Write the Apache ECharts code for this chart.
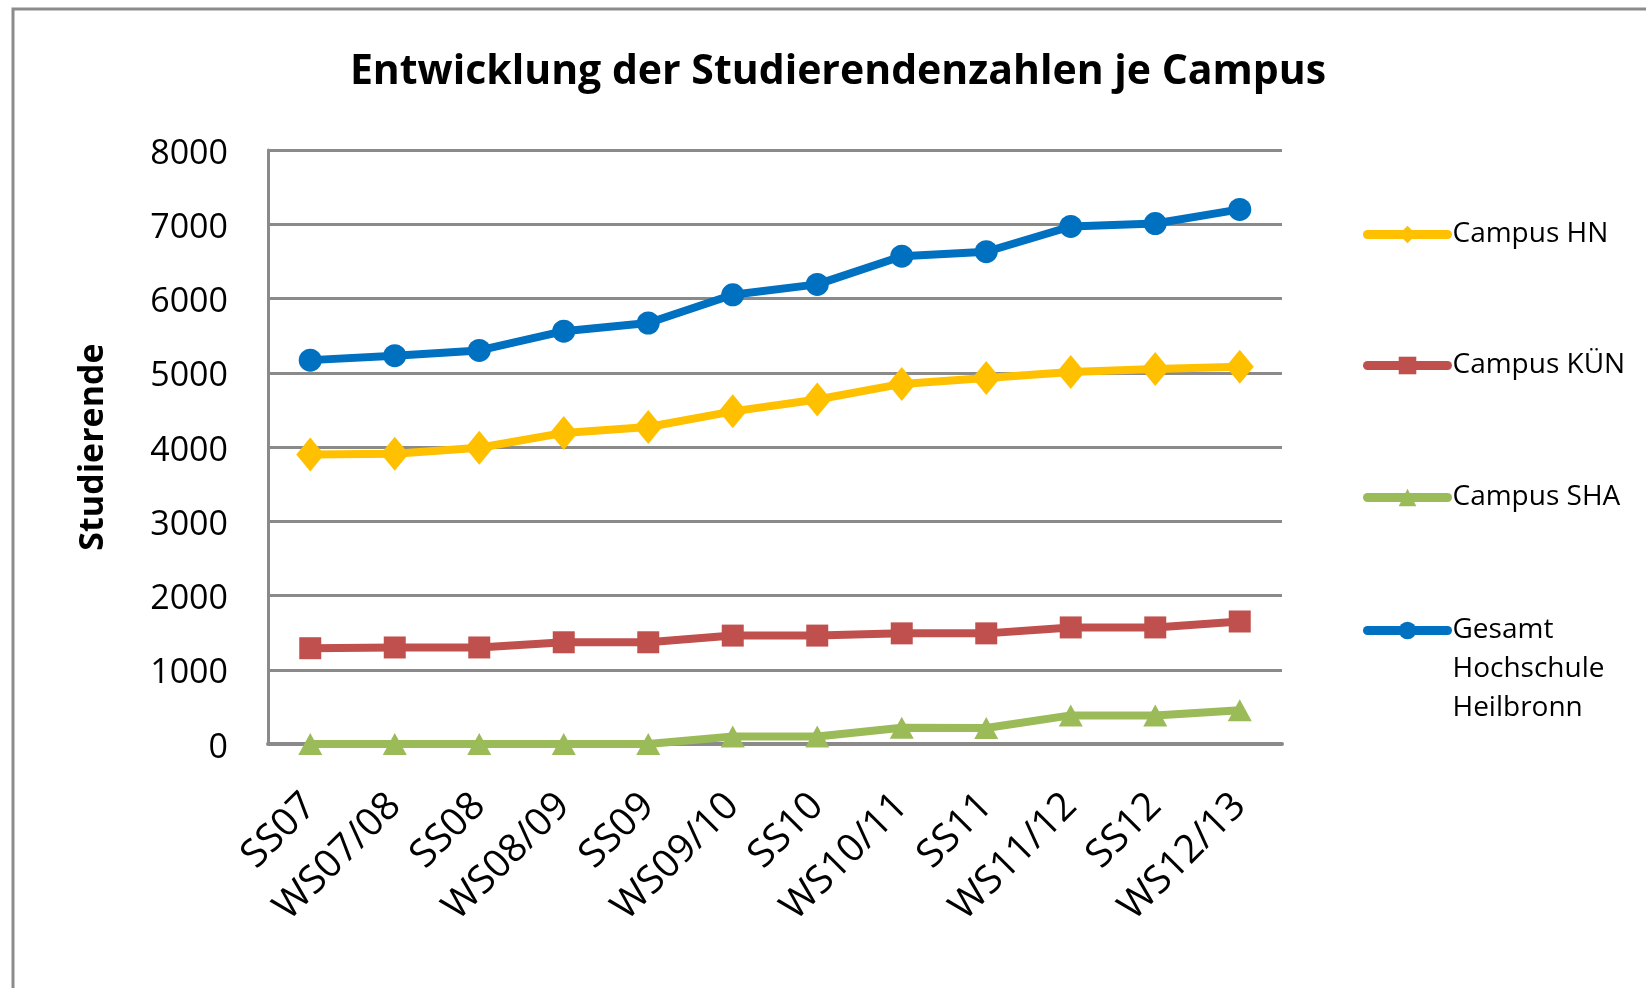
<!DOCTYPE html>
<html>
<head>
<meta charset="utf-8">
<title>Entwicklung der Studierendenzahlen je Campus</title>
<script src="https://cdn.jsdelivr.net/npm/echarts@6/dist/echarts.min.js"></script>
<style>
  html, body { margin: 0; padding: 0; background: #fff; }
  #chart { width: 1646px; height: 988px; }
</style>
</head>
<body>
<div id="chart"></div>
<script>
// data
const semesters = ['SS07', 'WS07/08', 'SS08', 'WS08/09', 'SS09', 'WS09/10', 'SS10', 'WS10/11', 'SS11', 'WS11/12', 'SS12', 'WS12/13']
const campusHN = [3900, 3910, 3990, 4190, 4270, 4480, 4640, 4850, 4930, 5010, 5050, 5080]
const campusKUEN = [1290, 1300, 1300, 1370, 1370, 1460, 1460, 1490, 1490, 1570, 1570, 1650]
const campusSHA = [0, 0, 0, 0, 0, 100, 100, 220, 215, 385, 385, 455]
const gesamt = [5170, 5230, 5300, 5560, 5670, 6050, 6190, 6570, 6630, 6970, 7010, 7200]
const yTicks = { min: 0, max: 8000, interval: 1000 }

const FONT = '"Open Sans"'
const GRID_GRAY = '#8a8a8a'

let myChart = echarts.init(document.getElementById('chart'))

// one legend per entry so each can sit where the original has it
function legendItem(name, top) {
  return {
    data: [name],
    orient: 'vertical',
    left: 1363,
    top: top,
    padding: 0,
    itemWidth: 80,
    itemHeight: 22,
    itemGap: 0,
    lineStyle: { width: 9, cap: 'round' },
    textStyle: {
      fontFamily: FONT,
      fontSize: 28,
      lineHeight: 39,
      color: '#000'
    },
    // two blank lines on top keep the icon next to the first line
    formatter: n => (n.indexOf('\n') > -1 ? '\n\n' + n : n)
  }
}

let option = {
  animation: false,
  backgroundColor: '#fff',
  title: {
    text: 'Entwicklung der Studierendenzahlen je Campus',
    left: 838,
    top: 52,
    padding: 0,
    textAlign: 'center',
    textStyle: {
      fontFamily: FONT,
      fontWeight: 'bold',
      fontSize: 41,
      color: '#000'
    }
  },
  graphic: [
    {
      type: 'rect',
      shape: { x: 13, y: 9, width: 1700, height: 1100 },
      style: { fill: 'none', stroke: '#8c8c8c', lineWidth: 3 },
      silent: true,
      z: -1
    }
  ],
  legend: [
    legendItem('Campus HN', 215),
    legendItem('Campus KÜN', 346),
    legendItem('Campus SHA', 478),
    legendItem('Gesamt\nHochschule\nHeilbronn', 533)
  ],
  grid: {
    left: 268,
    right: 364,
    top: 150,
    bottom: 244
  },
  xAxis: {
    type: 'category',
    data: semesters,
    boundaryGap: true,
    axisLine: { lineStyle: { color: GRID_GRAY, width: 4 } },
    axisTick: { show: false },
    axisLabel: {
      rotate: 45,
      margin: 56,
      fontFamily: FONT,
      fontSize: 39,
      color: '#000',
      interval: 0
    }
  },
  yAxis: {
    type: 'value',
    min: yTicks.min,
    max: yTicks.max,
    interval: yTicks.interval,
    name: 'Studierende',
    nameLocation: 'middle',
    nameRotate: 90,
    nameGap: 158,
    nameTextStyle: {
      fontFamily: FONT,
      fontWeight: 'bold',
      fontSize: 34,
      color: '#000'
    },
    axisLine: { show: true, lineStyle: { color: GRID_GRAY, width: 3 } },
    axisTick: { show: false },
    axisLabel: {
      margin: 40,
      formatter: v => '{v|' + v + '}',
      rich: {
        v: {
          fontFamily: FONT,
          fontSize: 34,
          color: '#000',
          padding: [8, 0, 0, 0]
        }
      }
    },
    splitLine: { lineStyle: { color: GRID_GRAY, width: 3 } }
  },
  series: [
    {
      name: 'Campus HN',
      type: 'line',
      data: campusHN,
      symbol: 'diamond',
      symbolSize: [28, 34],
      color: '#FFC000',
      lineStyle: { width: 8, join: 'round' }
    },
    {
      name: 'Campus KÜN',
      type: 'line',
      data: campusKUEN,
      symbol: 'rect',
      symbolSize: 22,
      color: '#C0504D',
      lineStyle: { width: 8, join: 'round' }
    },
    {
      name: 'Campus SHA',
      type: 'line',
      data: campusSHA,
      symbol: 'triangle',
      symbolSize: [24, 22],
      color: '#9BBB59',
      lineStyle: { width: 8, join: 'round' }
    },
    {
      name: 'Gesamt\nHochschule\nHeilbronn',
      type: 'line',
      data: gesamt,
      symbol: 'circle',
      symbolSize: 23,
      color: '#0070C0',
      lineStyle: { width: 8, join: 'round' }
    }
  ]
}
myChart.setOption(option)
</script>
</body>
</html>
